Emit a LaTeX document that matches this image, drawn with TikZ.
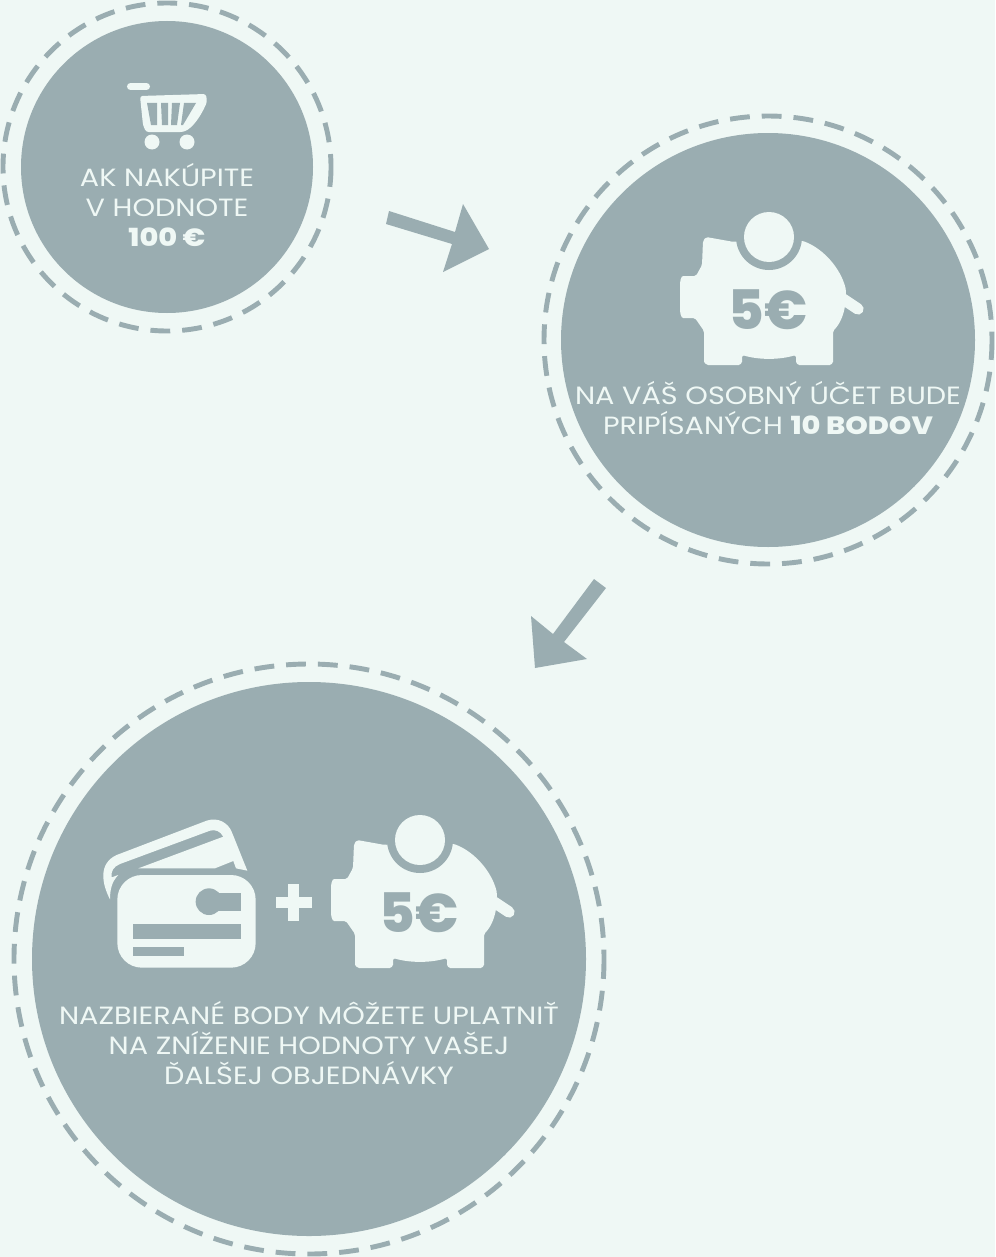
\documentclass[tikz,border=0pt]{standalone}
\usepackage{fontspec}
\setmainfont{Poppins}[UprightFont=* Light,BoldFont=* ExtraBold]
\newfontfamily\labelfont{Poppins}[FakeStretch=1.15,UprightFont=*,BoldFont=* ExtraBold]
\usetikzlibrary{positioning}
\definecolor{background}{HTML}{EFF8F5}
\definecolor{penColor}{HTML}{9AADB1}
\tikzset{
  disc/.style={circle,fill=penColor,inner sep=0pt},
  ring/.style={draw=penColor,line width=2.8pt,dash pattern=on 11.3pt off 6.8pt},
  label/.style={text=background,align=center,font=\labelfont\fontsize{14.2}{17.3}\selectfont,inner sep=0pt},
  piggy/.pic={
    \fill[background,rounded corners=1pt] (-66,4) -- (-63,0) -- (-35,5) -- (0,0) -- (34,4)
      .. controls (55,12) and (72,32) .. (77,53) -- (76,69)
      .. controls (74,80) and (70,88) .. (64,94) -- (64,123)
      .. controls (64,126) and (62,128) .. (59,128) -- (32,128)
      .. controls (29,128) and (27,126) .. (27,123) -- (27,118)
      .. controls (10,123) and (-10,123) .. (-27,118) -- (-27,123)
      .. controls (-27,126) and (-29,128) .. (-32,128) -- (-59,128)
      .. controls (-62,128) and (-65,126) .. (-65,123) -- (-65,94) -- (-74,81) -- (-84,81)
      .. controls (-88,81) and (-89,76) .. (-89,70) -- (-89,50)
      .. controls (-89,44) and (-88,39) .. (-84,39) -- (-73,39) -- (-67,28) -- cycle;
    \draw[background,line width=6.4pt,line cap=round] (74,62) -- (89,72);
    \fill[penColor] (0,0) circle (33);
    \fill[background] (0,0) circle (25);
    \node[text=penColor,font=\fontsize{31}{31}\selectfont\bfseries,inner sep=0pt] at (-1,73) {5€};
  }
}
\begin{document}
\begin{tikzpicture}[x=0.02cm,y=-0.02cm]
  \useasboundingbox[fill=background] (0,0) rectangle (995,1257);
  % the three discs
  \node[disc,minimum size=292*0.02cm] (buy) at (167,167) {};
  \node[disc,minimum size=414*0.02cm] (account) at (768,340) {};
  \node[disc,minimum size=554*0.02cm] (redeem) at (309,959) {};
  \draw[ring] (167,167) circle (164);
  \draw[ring] (768,340) circle (224);
  \draw[ring] (309,959) circle (295);

  % cart
  \draw[background,line width=4pt,line cap=round] (130.5,86.5) -- (146.5,86.5);
  \fill[background,rounded corners=1.5pt] (140,96) -- (206,94) -- (207,102)
     .. controls (200,118) and (192,128) .. (183,132) -- (146,132) -- (143,125) -- cycle;
  \fill[penColor] (147,103) -- (157,103) -- (157,125) -- (151,125) -- cycle;
  \fill[penColor] (161,103) -- (168,103) -- (168,125) -- (162,125) -- cycle;
  \fill[penColor] (172,103) -- (180,103) -- (177,125) -- (171,125) -- cycle;
  \fill[penColor] (184,103) -- (196,103) -- (183,125) -- (181,125) -- cycle;
  \fill[background] (152,142) circle (7.5);
  \fill[background] (187,142) circle (7.5);

  \node[label] (buytext) at (167,205) {AK NAKÚPITE\\V HODNOTE\\\textbf{100 €}};

  % first arrow
  \fill[penColor] (389,211) -- (386,224) -- (452,244) -- (443,272) -- (489,249) -- (463,204) -- (455,232) -- cycle;

  \pic at (769,237) {piggy};
  \node[label] (accounttext) at (768,408) {NA VÁŠ OSOBNÝ ÚČET BUDE\\PRIPÍSANÝCH \textbf{10 BODOV}};

  % second arrow
  \fill[penColor] (594,579) -- (606,588) -- (564,642) -- (587,659) -- (535,668) -- (531,616) -- (553,634) -- cycle;

  % wallet
  \begin{scope}[shift={(90,800)},x=0.00667cm,y=-0.00667cm]
    \fill[background] (60,298) .. controls (35,250) and (25,190) .. (80,165) -- (350,62)
      .. controls (385,50) and (415,70) .. (425,95) -- (472,212) -- (438,205) -- (430,183) -- (375,205) -- (145,205)
      -- (400,110) .. controls (390,92) and (375,88) .. (360,92) -- (90,192)
      .. controls (70,200) and (62,215) .. (65,232) -- (85,225) .. controls (65,245) and (60,270) .. (60,298) -- cycle;
    \fill[background,rounded corners=14pt] (82,225) rectangle (497,503);
    \fill[penColor] (357,305) circle (40);
    \fill[penColor] (357,280) rectangle (452,332);
    \fill[penColor] (128,372) rectangle (452,417);
    \fill[penColor] (128,440) rectangle (283,467);
  \end{scope}

  % plus
  \fill[background] (288,884) rectangle (299,921);
  \fill[background] (276,897) rectangle (312,908);

  \pic at (420,840) {piggy};
  \node[label] (redeemtext) at (309,1043) {NAZBIERANÉ BODY MÔŽETE UPLATNIŤ\\NA ZNÍŽENIE HODNOTY VAŠEJ\\ĎALŠEJ OBJEDNÁVKY};
\end{tikzpicture}
\end{document}
